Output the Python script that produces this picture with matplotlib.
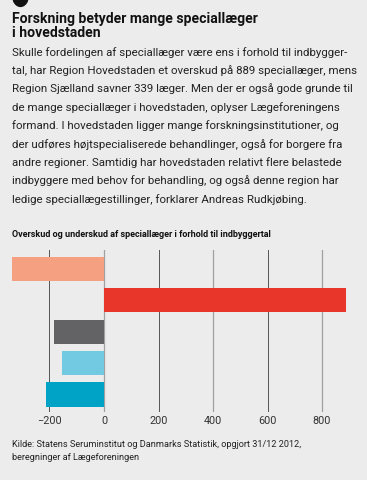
import matplotlib
matplotlib.use("Agg")
import matplotlib.pyplot as plt
from matplotlib.patches import Circle

# ---- data ----
regions = ["Region Sjælland", "Region Hovedstaden", "Region Syddanmark",
           "Region Midtjylland", "Region Nordjylland"]
values = [-339, 889, -183, -154, -213]
colors = ["#f4a081", "#e8362b", "#636366", "#72cae2", "#00a2c6"]
xticks = [-200, 0, 200, 400, 600, 800]
xticklabels = ["\u2212200", "0", "200", "400", "600", "800"]

title_lines = ["Forskning betyder mange speciallæger", "i hovedstaden"]
body_lines = [
    "Skulle fordelingen af speciallæger være ens i forhold til indbygger-",
    "tal, har Region Hovedstaden et overskud på 889 speciallæger, mens",
    "Region Sjælland savner 339 læger. Men der er også gode grunde til",
    "de mange speciallæger i hovedstaden, oplyser Lægeforeningens",
    "formand. I hovedstaden ligger mange forskningsinstitutioner, og",
    "der udføres højtspecialiserede behandlinger, også for borgere fra",
    "andre regioner. Samtidig har hovedstaden relativt flere belastede",
    "indbyggere med behov for behandling, og også denne region har",
    "ledige speciallægestillinger, forklarer Andreas Rudkjøbing.",
]
chart_title = "Overskud og underskud af speciallæger i forhold til indbyggertal"
source_lines = ["Kilde: Statens Seruminstitut og Danmarks Statistik, opgjort 31/12 2012,",
                "beregninger af Lægeforeningen"]

W, H = 367, 480
BG = "#ececec"
FONT = ["Roboto", "DejaVu Sans"]

fig = plt.figure(figsize=(W / 100, H / 100), dpi=100, facecolor=BG)
renderer = fig.canvas.get_renderer()


def px_text(x, y, s, target_w=None, size=9, **kw):
    t = fig.text(x / W, 1 - y / H, s, fontsize=size, va="baseline", ha="left",
                 family=FONT, **kw)
    if target_w is not None:
        w = t.get_window_extent(renderer).width
        t.set_fontsize(size * target_w / w)
    return t


# decorative black circle at top-left
fig.patches.append(Circle((20.5 / W, 1 + 4 / H), 8.5 / W, transform=fig.transFigure,
                          facecolor="#111111", edgecolor="none"))

t = px_text(12, 23.5, title_lines[0], target_w=245, size=11, weight="bold", color="#111111")
tsize = t.get_fontsize()
px_text(12, 37, title_lines[1], size=tsize, weight="bold", color="#111111")

b = px_text(12, 55.7, body_lines[1], target_w=346, size=9, color="#222222")
bsize = b.get_fontsize()
b.remove()
for i, line in enumerate(body_lines):
    px_text(12, 55.7 + 18.4 * i, line, size=bsize, color="#222222")

px_text(12, 237, chart_title, target_w=260, size=7, weight="bold", color="#111111")

s = px_text(12, 447, source_lines[0], target_w=289, size=8, color="#222222")
ssize = s.get_fontsize()
px_text(12, 460.5, source_lines[1], size=ssize, color="#222222")

# ---- chart ----
x0, x1 = 10, 350
y_top, y_bot = 250, 412
ax = fig.add_axes([x0 / W, 1 - y_bot / H, (x1 - x0) / W, (y_bot - y_top) / H])
ax.set_facecolor(BG)
scale = 54.5 / 200  # px per unit
ax.set_xlim((x0 - 104) / scale, (x1 - 104) / scale)
ypos = list(range(len(values)))[::-1]
ax.set_ylim(-0.56, 4.6)
for xv in xticks:
    c = "#a0a0a0" if xv in (0, 400, 800) else "#555555"
    ax.axvline(xv, color=c, lw=0.9 if xv in (0, 400, 800) else 0.7, zorder=0)
ax.barh(ypos, values, height=0.77, color=colors, zorder=2)
for sp in ax.spines.values():
    sp.set_visible(False)
ax.set_yticks([])
ax.set_xticks(xticks)
ax.set_xticklabels(xticklabels, family=FONT, fontsize=7.8, color="#333333")
ax.tick_params(axis="x", length=0, pad=3)

fig.savefig("out.png", dpi=100, facecolor=BG)
